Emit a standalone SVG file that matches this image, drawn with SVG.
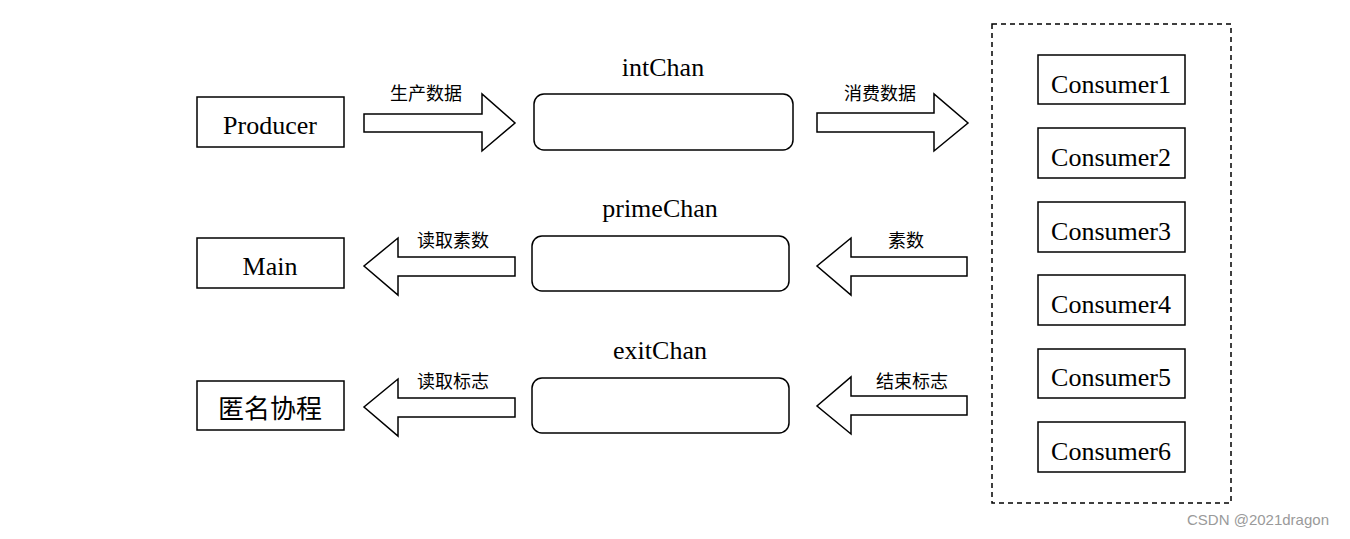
<svg xmlns="http://www.w3.org/2000/svg" width="1350" height="539" viewBox="0 0 1350 539">
<style>
.box{fill:#fff;stroke:#000;stroke-width:1.5}
.chan{fill:#fff;stroke:#000;stroke-width:1.5}
.arr{fill:#fff;stroke:#000;stroke-width:1.5;stroke-linejoin:miter}
.t{font-family:"Liberation Serif","Times New Roman",serif;font-size:26px;fill:#000;text-anchor:middle}
.c{font-family:"Noto Sans CJK SC","Microsoft YaHei",sans-serif;font-size:18px;fill:#000;text-anchor:middle}
.cb{font-family:"Noto Sans CJK SC","Microsoft YaHei",sans-serif;font-size:26px;fill:#000;text-anchor:middle}
.wm{font-family:"Liberation Sans",Arial,sans-serif;font-size:15px;fill:#9a9a9a}
</style>
<rect width="1350" height="539" fill="#fff"/>
<g id="producer"><rect class="box" x="197" y="97" width="147" height="50"/><text class="t" x="270" y="134">Producer</text></g>
<g id="main"><rect class="box" x="197" y="238" width="147" height="50"/><text class="t" x="270" y="275">Main</text></g>
<g id="anon"><rect class="box" x="197" y="381" width="147" height="49"/><text class="cb" x="270" y="418">匿名协程</text></g>
<g id="intChan"><text class="t" x="663" y="76">intChan</text><rect class="chan" x="534" y="94" width="259" height="56" rx="10"/></g>
<g id="primeChan"><text class="t" x="660" y="217">primeChan</text><rect class="chan" x="532" y="236" width="257" height="55" rx="10"/></g>
<g id="exitChan"><text class="t" x="660" y="359">exitChan</text><rect class="chan" x="532" y="378" width="257" height="55" rx="10"/></g>
<g id="consumers">
<rect x="992" y="24" width="239" height="479" fill="none" stroke="#000" stroke-width="1.5" stroke-dasharray="5,4"/>
<g id="consumer1"><rect class="box" x="1038" y="55" width="147" height="49"/><text class="t" x="1111" y="93">Consumer1</text></g>
<g id="consumer2"><rect class="box" x="1038" y="128" width="147" height="50"/><text class="t" x="1111" y="166">Consumer2</text></g>
<g id="consumer3"><rect class="box" x="1038" y="202" width="147" height="50"/><text class="t" x="1111" y="240">Consumer3</text></g>
<g id="consumer4"><rect class="box" x="1038" y="275" width="147" height="50"/><text class="t" x="1111" y="313">Consumer4</text></g>
<g id="consumer5"><rect class="box" x="1038" y="349" width="147" height="49"/><text class="t" x="1111" y="386">Consumer5</text></g>
<g id="consumer6"><rect class="box" x="1038" y="422" width="147" height="50"/><text class="t" x="1111" y="460">Consumer6</text></g>
</g>
<g id="connectors">
<polygon class="arr" points="364,114 482,114 482,94 515,123 482,151 482,132 364,132"/>
<text class="c" x="426" y="100">生产数据</text>
<polygon class="arr" points="817,113 934,113 934,94 968,123 934,151 934,132 817,132"/>
<text class="c" x="880" y="100">消费数据</text>
<polygon class="arr" points="515,257 398,257 398,238 364,266 398,295 398,276 515,276"/>
<text class="c" x="453" y="247">读取素数</text>
<polygon class="arr" points="967,257 851,257 851,238 817,266 851,295 851,276 967,276"/>
<text class="c" x="906" y="247">素数</text>
<polygon class="arr" points="515,398 398,398 398,379 364,407 398,436 398,417 515,417"/>
<text class="c" x="453" y="388">读取标志</text>
<polygon class="arr" points="967,396 851,396 851,377 817,406 851,434 851,415 967,415"/>
<text class="c" x="912" y="388">结束标志</text>
</g>
<text class="wm" x="1187" y="525">CSDN @2021dragon</text>
</svg>
